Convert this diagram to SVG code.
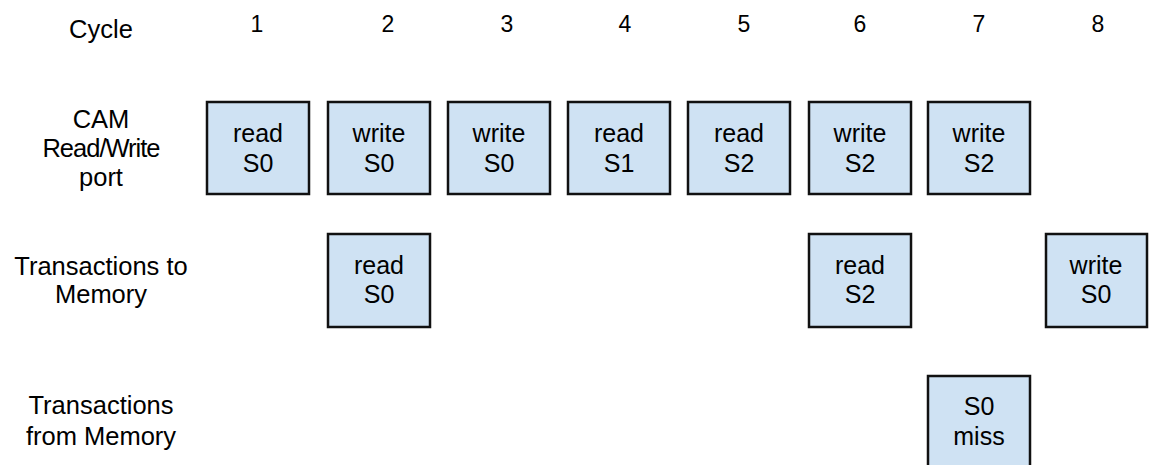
<svg xmlns="http://www.w3.org/2000/svg" width="1149" height="465" viewBox="0 0 1149 465">
<style>
text{font-family:"Liberation Sans",Arial,sans-serif;fill:#000;text-anchor:middle}
.lbl{font-size:25.5px}
.num{font-size:23px}
.bt{font-size:25px}
.box{fill:#cfe2f3;stroke:#111;stroke-width:2.5}
</style>
<rect width="1149" height="465" fill="#fff"/>
<g id="header">
<text class="lbl" x="101" y="38">Cycle</text>
<text class="num" x="257" y="32">1</text>
<text class="num" x="388" y="32">2</text>
<text class="num" x="507" y="32">3</text>
<text class="num" x="625" y="32">4</text>
<text class="num" x="744" y="32">5</text>
<text class="num" x="860" y="32">6</text>
<text class="num" x="979" y="32">7</text>
<text class="num" x="1098" y="32">8</text>
</g>
<g id="row-labels">
<text class="lbl" x="101" y="128">CAM</text>
<text class="lbl" x="101" y="157" letter-spacing="-1">Read/Write</text>
<text class="lbl" x="101" y="186">port</text>
<text class="lbl" x="101" y="275">Transactions to</text>
<text class="lbl" x="101" y="303">Memory</text>
<text class="lbl" x="101" y="414">Transactions</text>
<text class="lbl" x="101" y="445">from Memory</text>
</g>
<g id="connectors"/>
<g id="cam1"><rect class="box" x="207" y="102" width="102" height="92"/><text class="bt" x="258" y="142">read</text><text class="bt" x="258" y="172">S0</text></g>
<g id="cam2"><rect class="box" x="328" y="102" width="102" height="92"/><text class="bt" x="379" y="142">write</text><text class="bt" x="379" y="172">S0</text></g>
<g id="cam3"><rect class="box" x="448" y="102" width="102" height="92"/><text class="bt" x="499" y="142">write</text><text class="bt" x="499" y="172">S0</text></g>
<g id="cam4"><rect class="box" x="568" y="102" width="102" height="92"/><text class="bt" x="619" y="142">read</text><text class="bt" x="619" y="172">S1</text></g>
<g id="cam5"><rect class="box" x="688" y="102" width="102" height="92"/><text class="bt" x="739" y="142">read</text><text class="bt" x="739" y="172">S2</text></g>
<g id="cam6"><rect class="box" x="809" y="102" width="102" height="92"/><text class="bt" x="860" y="142">write</text><text class="bt" x="860" y="172">S2</text></g>
<g id="cam7"><rect class="box" x="928" y="102" width="102" height="92"/><text class="bt" x="979" y="142">write</text><text class="bt" x="979" y="172">S2</text></g>
<g id="tomem2"><rect class="box" x="328" y="234" width="102" height="93"/><text class="bt" x="379" y="274">read</text><text class="bt" x="379" y="303">S0</text></g>
<g id="tomem6"><rect class="box" x="809" y="234" width="102" height="93"/><text class="bt" x="860" y="274">read</text><text class="bt" x="860" y="303">S2</text></g>
<g id="tomem8"><rect class="box" x="1046" y="234" width="101" height="93"/><text class="bt" x="1096" y="274">write</text><text class="bt" x="1096" y="303">S0</text></g>
<g id="frommem7"><rect class="box" x="928" y="376" width="102" height="110"/><text class="bt" x="979" y="415">S0</text><text class="bt" x="979" y="445">miss</text></g>
</svg>
